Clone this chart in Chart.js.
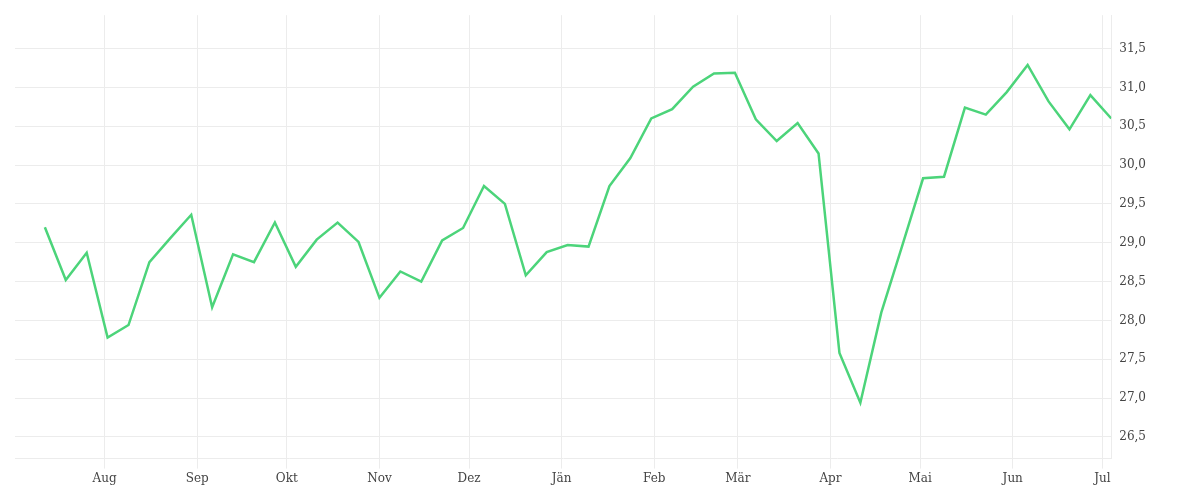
<!DOCTYPE html>
<html>
<head>
<meta charset="utf-8">
<script src="https://cdn.jsdelivr.net/npm/chart.js@4"></script>
<style>
  html, body { margin: 0; background: #fff; }
  #wrap { width: 1200px; height: 500px; }
</style>
</head>
<body>
<div id="wrap"><canvas id="c"></canvas></div>
<script>
// weekly values, starting 12 Jul (day 0)
const values = [29.2, 28.52, 28.87, 27.78, 27.94, 28.75, 29.06, 29.36, 28.17, 28.85,
  28.75, 29.26, 28.69, 29.04, 29.26, 29.01, 28.29, 28.63, 28.5, 29.03,
  29.19, 29.73, 29.5, 28.58, 28.88, 28.97, 28.95, 29.73, 30.09, 30.6,
  30.72, 31.01, 31.18, 31.19, 30.59, 30.31, 30.54, 30.15, 27.58, 26.94,
  28.1, 28.96, 29.83, 29.85, 30.74, 30.65, 30.94, 31.29, 30.82, 30.46,
  30.9, 30.6];
const monthDays = [20, 51, 81, 112, 142, 173, 204, 232, 263, 293, 324, 354];
const monthLabels = ['Aug', 'Sep', 'Okt', 'Nov', 'Dez', 'Jän', 'Feb', 'Mär', 'Apr', 'Mai', 'Jun', 'Jul'];
const yTicks = [26.5, 27.0, 27.5, 28.0, 28.5, 29.0, 29.5, 30.0, 30.5, 31.0, 31.5];

const points = values.map((v, i) => ({ x: i * 7, y: v }));
const font = { family: 'DejaVu Serif', size: 12 };

new Chart(document.getElementById('c'), {
  type: 'line',
  data: {
    datasets: [{
      data: points,
      borderColor: '#4cd47a',
      borderWidth: 2.5,
      pointRadius: 0,
      tension: 0,
      fill: false
    }]
  },
  options: {
    responsive: true,
    maintainAspectRatio: false,
    animation: false,
    layout: { padding: { left: 15, top: 5, right: 46, bottom: 11 } },
    plugins: { legend: { display: false }, tooltip: { enabled: false } },
    scales: {
      x: {
        type: 'linear',
        min: -10,
        max: 357,
        afterBuildTicks: ax => { ax.ticks = monthDays.map(v => ({ value: v })); },
        ticks: {
          color: '#444', font,
          maxRotation: 0, autoSkip: false,
          callback: v => monthLabels[monthDays.indexOf(v)]
        },
        grid: { color: '#ececec', tickLength: 10 },
        border: { color: '#ececec' }
      },
      y: {
        position: 'right',
        min: 26.22,
        max: 31.93,
        afterBuildTicks: ax => { ax.ticks = yTicks.map(v => ({ value: v })); },
        ticks: {
          color: '#444', font, padding: 8,
          callback: v => v.toFixed(1).replace('.', ',')
        },
        grid: { color: '#ececec', drawTicks: false },
        border: { color: '#ececec' }
      }
    }
  }
});
</script>
</body>
</html>
